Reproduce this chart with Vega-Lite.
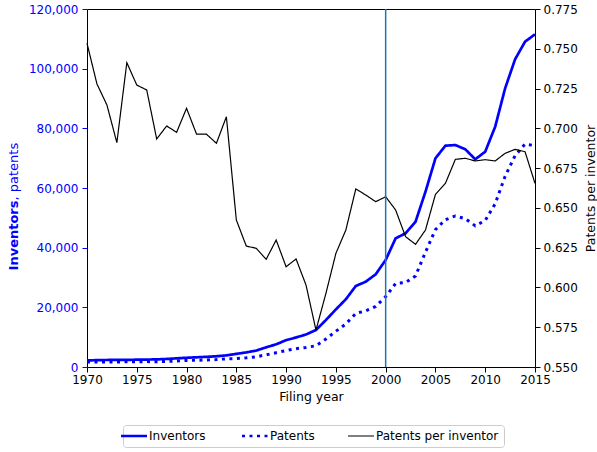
{
  "$schema": "https://vega.github.io/schema/vega-lite/v6.json",
  "width": 448,
  "height": 358,
  "autosize": {"type": "none"},
  "padding": {"left": 87, "top": 9, "right": 62, "bottom": 85},
  "background": "white",
  "config": {
    "view": {"stroke": "#000000", "strokeWidth": 1},
    "font": "DejaVu Sans",
    "axis": {"labelFont": "DejaVu Sans", "titleFont": "DejaVu Sans", "labelFontSize": 12, "titleFontSize": 12.5, "titleFontWeight": "normal", "grid": false, "domain": false, "tickSize": 5, "tickWidth": 1, "labelColor": "#000000", "titleColor": "#000000", "tickColor": "#000000"},
    "legend": {"labelFont": "DejaVu Sans", "labelFontSize": 12, "labelColor": "#000000"}
  },
  "data": {
    "values": [
      {"year": 1970, "Inventors": 2200, "Patents": 1660, "Patents per inventor": 0.7534},
      {"year": 1971, "Inventors": 2300, "Patents": 1670, "Patents per inventor": 0.7279},
      {"year": 1972, "Inventors": 2350, "Patents": 1680, "Patents per inventor": 0.7147},
      {"year": 1973, "Inventors": 2400, "Patents": 1660, "Patents per inventor": 0.6910},
      {"year": 1974, "Inventors": 2400, "Patents": 1780, "Patents per inventor": 0.7413},
      {"year": 1975, "Inventors": 2450, "Patents": 1780, "Patents per inventor": 0.7272},
      {"year": 1976, "Inventors": 2500, "Patents": 1810, "Patents per inventor": 0.7241},
      {"year": 1977, "Inventors": 2550, "Patents": 1770, "Patents per inventor": 0.6933},
      {"year": 1978, "Inventors": 2700, "Patents": 1890, "Patents per inventor": 0.7015},
      {"year": 1979, "Inventors": 2900, "Patents": 2020, "Patents per inventor": 0.6975},
      {"year": 1980, "Inventors": 3100, "Patents": 2210, "Patents per inventor": 0.7126},
      {"year": 1981, "Inventors": 3250, "Patents": 2260, "Patents per inventor": 0.6964},
      {"year": 1982, "Inventors": 3400, "Patents": 2370, "Patents per inventor": 0.6963},
      {"year": 1983, "Inventors": 3600, "Patents": 2490, "Patents per inventor": 0.6906},
      {"year": 1984, "Inventors": 3900, "Patents": 2760, "Patents per inventor": 0.7073},
      {"year": 1985, "Inventors": 4400, "Patents": 2830, "Patents per inventor": 0.6424},
      {"year": 1986, "Inventors": 4900, "Patents": 3070, "Patents per inventor": 0.6260},
      {"year": 1987, "Inventors": 5500, "Patents": 3440, "Patents per inventor": 0.6246},
      {"year": 1988, "Inventors": 6600, "Patents": 4080, "Patents per inventor": 0.6177},
      {"year": 1989, "Inventors": 7600, "Patents": 4790, "Patents per inventor": 0.6298},
      {"year": 1990, "Inventors": 9000, "Patents": 5520, "Patents per inventor": 0.6130},
      {"year": 1991, "Inventors": 9900, "Patents": 6120, "Patents per inventor": 0.6179},
      {"year": 1992, "Inventors": 10900, "Patents": 6560, "Patents per inventor": 0.6015},
      {"year": 1993, "Inventors": 12400, "Patents": 7110, "Patents per inventor": 0.5732},
      {"year": 1994, "Inventors": 15750, "Patents": 9390, "Patents per inventor": 0.5963},
      {"year": 1995, "Inventors": 19300, "Patents": 12000, "Patents per inventor": 0.6214},
      {"year": 1996, "Inventors": 22700, "Patents": 14430, "Patents per inventor": 0.6361},
      {"year": 1997, "Inventors": 27150, "Patents": 17970, "Patents per inventor": 0.6619},
      {"year": 1998, "Inventors": 28600, "Patents": 18820, "Patents per inventor": 0.6581},
      {"year": 1999, "Inventors": 31070, "Patents": 20320, "Patents per inventor": 0.6539},
      {"year": 2000, "Inventors": 35870, "Patents": 23570, "Patents per inventor": 0.6570},
      {"year": 2001, "Inventors": 43140, "Patents": 27990, "Patents per inventor": 0.6487},
      {"year": 2002, "Inventors": 44800, "Patents": 28310, "Patents per inventor": 0.6319},
      {"year": 2003, "Inventors": 48700, "Patents": 30540, "Patents per inventor": 0.6271},
      {"year": 2004, "Inventors": 58760, "Patents": 38500, "Patents per inventor": 0.6361},
      {"year": 2005, "Inventors": 69950, "Patents": 46060, "Patents per inventor": 0.6585},
      {"year": 2006, "Inventors": 74180, "Patents": 49360, "Patents per inventor": 0.6654},
      {"year": 2007, "Inventors": 74400, "Patents": 50630, "Patents per inventor": 0.6805},
      {"year": 2008, "Inventors": 72970, "Patents": 49710, "Patents per inventor": 0.6812},
      {"year": 2009, "Inventors": 69620, "Patents": 47310, "Patents per inventor": 0.6795},
      {"year": 2010, "Inventors": 72170, "Patents": 49100, "Patents per inventor": 0.6803},
      {"year": 2011, "Inventors": 80550, "Patents": 54730, "Patents per inventor": 0.6795},
      {"year": 2012, "Inventors": 93420, "Patents": 63930, "Patents per inventor": 0.6843},
      {"year": 2013, "Inventors": 103140, "Patents": 70840, "Patents per inventor": 0.6868},
      {"year": 2014, "Inventors": 109050, "Patents": 74730, "Patents per inventor": 0.6853},
      {"year": 2015, "Inventors": 111520, "Patents": 74200, "Patents per inventor": 0.6654}
    ]
  },
  "layer": [
    {
      "transform": [{"fold": ["Inventors"], "as": ["series", "value"]}],
      "mark": {"type": "line", "strokeWidth": 2.7, "strokeJoin": "round"},
      "encoding": {
        "x": {"field": "year", "type": "quantitative", "scale": {"domain": [1970, 2015], "nice": false, "zero": false},
              "axis": {"values": [1970, 1975, 1980, 1985, 1990, 1995, 2000, 2005, 2010, 2015], "format": "d", "labelPadding": 2, "title": "Filing year", "titleX": 224, "titleY": 33, "titleAlign": "center", "titleBaseline": "alphabetic", "labelFlush": false, "labelOverlap": false}},
        "y": {"field": "value", "type": "quantitative", "scale": {"domain": [0, 120000], "nice": false},
              "axis": {"orient": "left", "values": [0, 20000, 40000, 60000, 80000, 100000, 120000], "format": ",d", "labelColor": "#0000ff", "tickColor": "#0000ff", "labelPadding": 4, "title": "Inventors", "titleFontSize": 13, "titleFontWeight": "bold", "titleColor": "#0000ff", "titleAngle": -90, "titleAlign": "right", "titleBaseline": "middle", "titleX": -74, "titleY": 191}},
        "color": {"field": "series", "type": "nominal", "scale": {"domain": ["Inventors", "Patents", "Patents per inventor"], "range": ["#0000ff", "#0000ff", "#000000"]},
                  "legend": {"title": null, "orient": "none", "legendX": 36, "legendY": 416, "direction": "horizontal", "columns": 3, "columnPadding": 30, "symbolType": "stroke", "symbolSize": 676, "labelOffset": 9, "padding": 5, "fillColor": "#ffffff", "strokeColor": "#cccccc", "cornerRadius": 3,
                             "encode": {"symbols": {"update": {"strokeWidth": {"signal": "datum.value === 'Patents per inventor' ? 1.2 : 2.7"}}}}}},
        "strokeDash": {"field": "series", "type": "nominal", "scale": {"domain": ["Inventors", "Patents", "Patents per inventor"], "range": [[1, 0], [3, 4.5], [1, 0]]}, "legend": {"title": null}}
      }
    },
    {
      "transform": [{"fold": ["Patents"], "as": ["series", "value"]}],
      "mark": {"type": "line", "strokeWidth": 3},
      "encoding": {
        "x": {"field": "year", "type": "quantitative", "scale": {"domain": [1970, 2015], "nice": false, "zero": false}},
        "y": {"field": "value", "type": "quantitative", "scale": {"domain": [0, 120000], "nice": false},
              "axis": {"orient": "left", "labels": false, "ticks": false, "domain": false, "title": ", patents", "titleFontSize": 13, "titleFontWeight": "normal", "titleColor": "#0000ff", "titleAngle": -90, "titleAlign": "left", "titleBaseline": "middle", "titleX": -74, "titleY": 191}},
        "color": {"field": "series", "type": "nominal"},
        "strokeDash": {"field": "series", "type": "nominal"}
      }
    },
    {
      "transform": [{"fold": ["Patents per inventor"], "as": ["series", "value"]}],
      "mark": {"type": "line", "strokeWidth": 1.2},
      "encoding": {
        "x": {"field": "year", "type": "quantitative", "scale": {"domain": [1970, 2015], "nice": false, "zero": false}},
        "y": {"field": "value", "type": "quantitative", "scale": {"domain": [0.55, 0.775], "nice": false, "zero": false},
              "axis": {"orient": "right", "values": [0.55, 0.575, 0.6, 0.625, 0.65, 0.675, 0.7, 0.725, 0.75, 0.775], "format": ".3f", "labelPadding": 3, "title": "Patents per inventor", "titleAngle": 270, "titleAlign": "center", "titleBaseline": "middle", "titleX": 55, "titleY": 179}},
        "color": {"field": "series", "type": "nominal"},
        "strokeDash": {"field": "series", "type": "nominal"}
      }
    },
    {
      "data": {"values": [{"marker_year": 2000}]},
      "mark": {"type": "rule", "color": "#1f77b4", "strokeWidth": 1.5},
      "encoding": {
        "x": {"field": "marker_year", "type": "quantitative", "scale": {"domain": [1970, 2015], "nice": false, "zero": false}}
      }
    }
  ],
  "resolve": {"scale": {"y": "independent"}}
}
